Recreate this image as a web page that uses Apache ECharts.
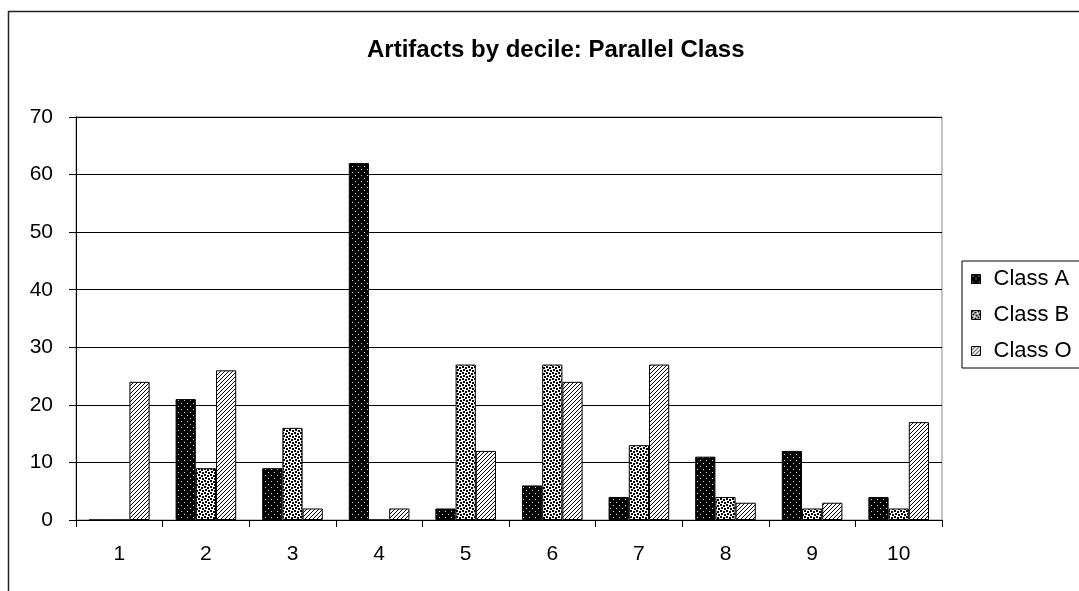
<!DOCTYPE html>
<html>
<head>
<meta charset="utf-8">
<script src="https://cdn.jsdelivr.net/npm/echarts@6/dist/echarts.min.js"></script>
<style>
html,body{margin:0;padding:0;background:#fff;}
#chart{width:1079px;height:591px;}
</style>
</head>
<body>
<div id="chart"></div>
<script>
var categories = ['1','2','3','4','5','6','7','8','9','10'];
var classA = [0, 21, 9, 62, 2, 6, 4, 11, 12, 4];
var classB = [0, 9, 16, 0, 27, 27, 13, 4, 2, 2];
var classO = [24, 26, 2, 2, 12, 24, 27, 3, 3, 17];
var seriesNames = ['Class A', 'Class B', 'Class O'];
var titleText = 'Artifacts by decile: Parallel Class';

function makeTile(w, h, draw) {
  var c = document.createElement('canvas');
  c.width = w; c.height = h;
  var ctx = c.getContext('2d');
  draw(ctx, w, h);
  return c;
}
var tileA = makeTile(6, 6, function (ctx, w, h) {
  ctx.fillStyle = '#000'; ctx.fillRect(0, 0, w, h);
  ctx.fillStyle = '#ddd';
  ctx.fillRect(1, 1, 1, 1);
  ctx.fillRect(4, 4, 1, 1);
});
var tileB = makeTile(6, 6, function (ctx, w, h) {
  ctx.fillStyle = '#fff'; ctx.fillRect(0, 0, w, h);
  ctx.fillStyle = '#000';
  ctx.fillRect(0, 0, 2, 2);
  ctx.fillRect(3, 1, 2, 2);
  ctx.fillRect(1, 3, 2, 2);
  ctx.fillRect(4, 4, 2, 2);
});
var tileO = makeTile(4, 4, function (ctx, w, h) {
  ctx.fillStyle = '#fff'; ctx.fillRect(0, 0, w, h);
  ctx.fillStyle = '#000';
  for (var i = 0; i < 4; i++) {
    ctx.fillRect(3 - i, i, 1, 1);
  }
});
var patterns = [tileA, tileB, tileO];
var dataSets = [classA, classB, classO];

var series = seriesNames.map(function (name, i) {
  return {
    name: name,
    type: 'bar',
    data: dataSets[i],
    barGap: '0%',
    barCategoryGap: '30%',
    itemStyle: {
      color: { image: patterns[i], repeat: 'repeat' },
      borderColor: '#000',
      borderWidth: 1
    },
    emphasis: { disabled: true }
  };
});

var chart = echarts.init(document.getElementById('chart'), null, { renderer: 'canvas' });
chart.setOption({
  animation: false,
  backgroundColor: '#fff',
  textStyle: { fontFamily: 'Liberation Sans, Arial, sans-serif', color: '#000' },
  title: {
    text: titleText,
    left: 362,
    top: 33,
    textStyle: { fontSize: 24, fontWeight: 'bold', color: '#000', fontFamily: 'Liberation Sans, Arial, sans-serif' }
  },
  graphic: [{
    type: 'rect',
    shape: { x: 8.5, y: 11.5, width: 2000, height: 2000 },
    style: { fill: 'none', stroke: '#222', lineWidth: 1.5 },
    silent: true
  }],
  grid: {
    left: 76, right: 137, top: 117, bottom: 71,
    show: true, borderColor: '#888', borderWidth: 1, backgroundColor: 'transparent'
  },
  legend: {
    data: seriesNames,
    orient: 'vertical',
    left: 962,
    top: 261,
    padding: [7, 120, 6, 9],
    borderColor: '#000',
    borderWidth: 1,
    icon: 'rect',
    itemWidth: 9,
    itemHeight: 9,
    itemGap: 14,
    selectedMode: false,
    itemStyle: { borderColor: '#000', borderWidth: 1 },
    textStyle: { fontSize: 22, color: '#000', padding: [0, 0, 0, 8] }
  },
  xAxis: {
    type: 'category',
    data: categories,
    axisLine: { show: true, lineStyle: { color: '#000', width: 1 } },
    axisTick: { show: true, alignWithLabel: false, length: 7, lineStyle: { color: '#000' } },
    axisLabel: { fontSize: 21, color: '#000', margin: 24 },
    splitLine: { show: false }
  },
  yAxis: {
    type: 'value',
    min: 0, max: 70, interval: 10,
    axisLine: { show: true, lineStyle: { color: '#000', width: 1 } },
    axisTick: { show: true, length: 7, lineStyle: { color: '#000' } },
    axisLabel: { fontSize: 21, color: '#000', margin: 23 },
    splitLine: { show: true, lineStyle: { color: '#000', width: 1 } }
  },
  series: series
});
</script>
</body>
</html>
